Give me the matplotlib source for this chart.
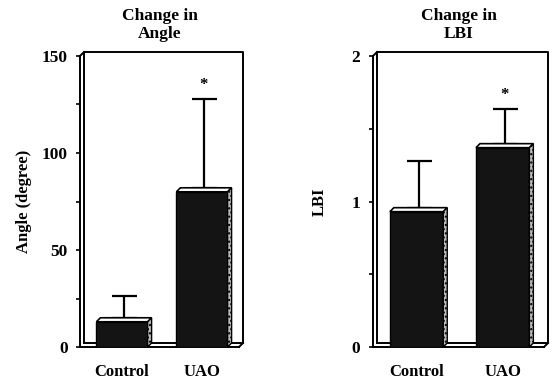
import matplotlib.pyplot as plt
import matplotlib.transforms as mtransforms
from matplotlib.patches import Polygon

groups = ["Control", "UAO"]

angle_mean = [13, 80]
angle_sd = [11, 46]

lbi_mean = [0.93, 1.37]
lbi_sd = [0.32, 0.24]

plt.rcParams['font.family'] = ['Liberation Serif', 'DejaVu Serif']
plt.rcParams['font.weight'] = 'bold'

DPI = 100
fig = plt.figure(figsize=(5.58, 3.83), dpi=DPI)

D = 4  # depth of the fake 3d effect, in pixels


def draw_panel(rect, means, sds, ymax, yticks, minor, ylabel, title, xlim, width, lpad):
    ax = fig.add_axes(rect)
    ax.set_xlim(*xlim)
    ax.set_ylim(0, ymax)
    for s in ['top', 'right']:
        ax.spines[s].set_visible(False)
    for s in ['left', 'bottom']:
        ax.spines[s].set_linewidth(1.4)

    bb = ax.get_window_extent()
    dx = D * (xlim[1] - xlim[0]) / bb.width
    dy = D * ymax / bb.height

    # back wall of the 3d box
    off = ax.transAxes + mtransforms.ScaledTranslation(D / DPI, D / DPI, fig.dpi_scale_trans)
    ax.plot([0, 0, 1, 1, 0], [0, 1, 1, 0, 0], color='black', lw=1.4,
            transform=off, clip_on=False, zorder=1)
    ox = D / bb.width
    oy = D / bb.height
    ax.plot([0, ox], [1, 1 + oy], color='black', lw=1.4, transform=ax.transAxes, clip_on=False)
    ax.plot([1, 1 + ox], [0, oy], color='black', lw=1.4, transform=ax.transAxes, clip_on=False)

    x = list(range(len(means)))
    ax.bar(x, means, width=width, color='#141414', edgecolor='black', lw=1, zorder=3)
    for xi, m in zip(x, means):
        x0 = xi - width / 2
        x1 = xi + width / 2
        top = Polygon([(x0, m), (x1, m), (x1 + dx, m + dy), (x0 + dx, m + dy)],
                      closed=True, facecolor='white', edgecolor='black', lw=1.2, zorder=4)
        side = Polygon([(x1, 0), (x1, m), (x1 + dx, m + dy), (x1 + dx, dy)],
                       closed=True, facecolor='#bbbbbb', edgecolor='black', lw=1, zorder=4,
                       hatch='....')
        ax.add_patch(top)
        ax.add_patch(side)

    ax.errorbar([xi + dx / 2 for xi in x], [m + dy for m in means],
                yerr=[[0] * len(sds), sds], fmt='none', ecolor='black',
                elinewidth=1.6, capsize=9, capthick=1.6, zorder=2)
    for xi, m, s in zip(x, means, sds):
        if xi == 1:
            ax.annotate('*', (xi + dx / 2, m + s + dy), xytext=(0, 4),
                        textcoords='offset points', ha='center', va='bottom',
                        fontsize=12, fontweight='bold')

    ax.set_yticks(yticks)
    ax.set_yticklabels([str(t) for t in yticks])
    ax.set_yticks(minor, minor=True)
    ax.tick_params(axis='y', which='both', length=3, width=1.2, pad=6, labelsize=12.5)
    ax.set_xticks(x)
    ax.set_xticklabels(groups)
    ax.tick_params(axis='x', length=0, pad=12, labelsize=12)
    ax.set_ylabel(ylabel, fontsize=12, fontweight='bold', labelpad=lpad)
    ax.set_title(title, fontsize=12.5, fontweight='bold', pad=13, linespacing=1.2)
    return ax


W, H = 558, 383
draw_panel([80 / W, (H - 347) / H, 159 / W, 291 / H], angle_mean, angle_sd,
           150, [0, 50, 100, 150], [25, 75, 125], 'Angle (degree)',
           'Change in\nAngle', (-0.525, 1.4625), 0.64, 7)
draw_panel([373 / W, (H - 347) / H, 171 / W, 291 / H], lbi_mean, lbi_sd,
           2, [0, 1, 2], [0.5, 1.5], 'LBI',
           'Change in\nLBI', (-0.506, 1.48), 0.62, 17)

fig.savefig('out.png', dpi=DPI)
